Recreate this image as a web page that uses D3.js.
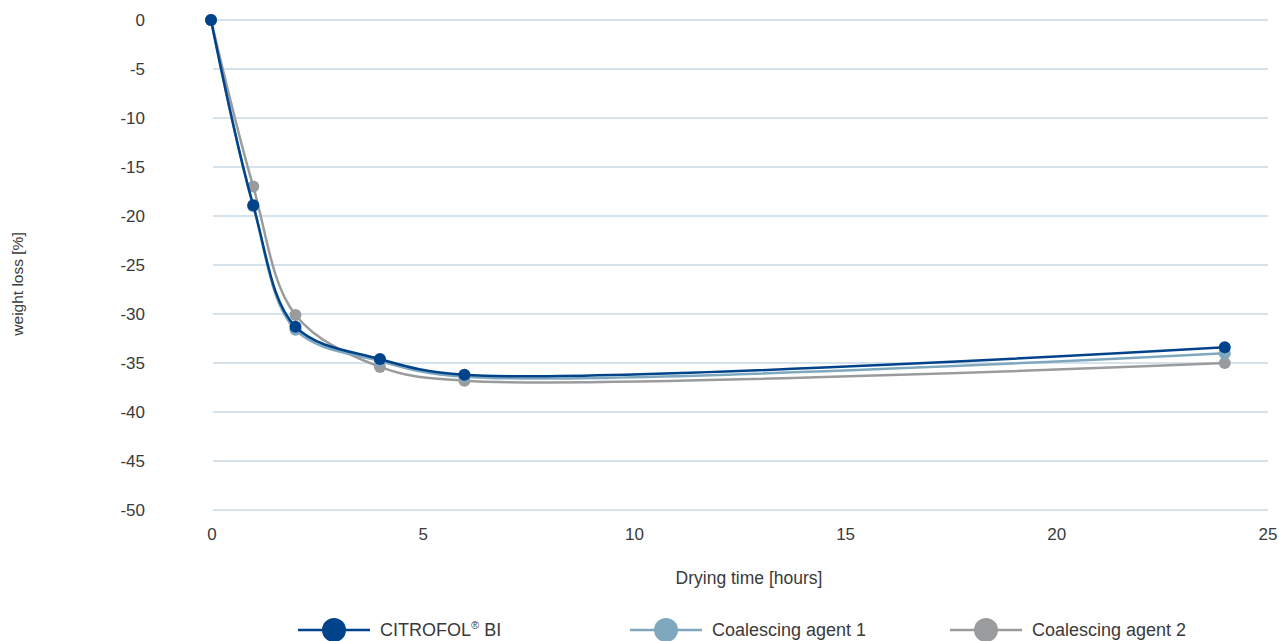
<!DOCTYPE html>
<html>
<head>
<meta charset="utf-8">
<script src="https://d3js.org/d3.v7.min.js"></script>
<style>
  body { margin: 0; background: #fff; }
  svg text { font-family: "Liberation Sans", Arial, sans-serif; fill: #3a3a3a; }
</style>
</head>
<body>
<div id="chart"></div>
<script>
// Data
const hours = [0, 1, 2, 4, 6, 24];
const citrofolBI = [0, -18.9, -31.3, -34.6, -36.2, -33.4];
const agent1 = [0, -19.0, -31.6, -34.8, -36.4, -34.0];
const agent2 = [0, -17.0, -30.1, -35.4, -36.8, -35.0];
const yTicks = [0, -5, -10, -15, -20, -25, -30, -35, -40, -45, -50];
const xTicks = [0, 5, 10, 15, 20, 25];

const seriesList = [
  { name: "Coalescing agent 2", values: agent2, color: "#9a9b9c" },
  { name: "Coalescing agent 1", values: agent1, color: "#7fa8bf" },
  { name: "CITROFOL® BI", values: citrofolBI, color: "#00438a" }
];
const legendOrder = [seriesList[2], seriesList[1], seriesList[0]];

const width = 1279, height = 641;
const svg = d3.select('#chart').append('svg')
  .attr('width', width)
  .attr('height', height);

const x = d3.scaleLinear().domain([0, 25]).range([211, 1267]);
const y = d3.scaleLinear().domain([0, -50]).range([20, 510]);

// Horizontal grid lines
svg.append('g')
  .selectAll('line')
  .data(yTicks)
  .enter()
  .append('line')
  .attr('x1', 213)
  .attr('x2', 1268)
  .attr('y1', d => y(d))
  .attr('y2', d => y(d))
  .style('stroke', '#c8d9e6')
  .style('stroke-width', '1.3px');

// Y tick labels
svg.append('g')
  .selectAll('text')
  .data(yTicks)
  .enter()
  .append('text')
  .attr('x', 145)
  .attr('y', d => y(d))
  .attr('dy', '0.35em')
  .attr('text-anchor', 'end')
  .style('font-size', '17px')
  .text(d => d);

// X tick labels
svg.append('g')
  .selectAll('text')
  .data(xTicks)
  .enter()
  .append('text')
  .attr('x', d => x(d) + 1)
  .attr('y', 534)
  .attr('dy', '0.35em')
  .attr('text-anchor', 'middle')
  .style('font-size', '17px')
  .text(d => d);

// Axis titles
svg.append('text')
  .attr('x', 749)
  .attr('y', 578)
  .attr('dy', '0.35em')
  .attr('text-anchor', 'middle')
  .style('font-size', '17.5px')
  .text('Drying time [hours]');

svg.append('text')
  .attr('transform', 'translate(18,284) rotate(-90)')
  .attr('dy', '0.35em')
  .attr('text-anchor', 'middle')
  .style('font-size', '15.5px')
  .text('weight loss [%]');

// Lines
const line = d3.line()
  .x(d => x(d[0]))
  .y(d => y(d[1]))
  .curve(d3.curveCatmullRom.alpha(0.5));

const seriesG = svg.append('g')
  .selectAll('g')
  .data(seriesList)
  .enter()
  .append('g');

seriesG.append('path')
  .attr('d', d => line(hours.map((h, i) => [h, d.values[i]])))
  .style('fill', 'none')
  .style('stroke', d => d.color)
  .style('stroke-width', '2.5px');

seriesG.selectAll('circle')
  .data(d => hours.map((h, i) => ({ h, v: d.values[i], color: d.color })))
  .enter()
  .append('circle')
  .attr('cx', d => x(d.h))
  .attr('cy', d => y(d.v))
  .attr('r', 6)
  .style('fill', d => d.color);

// Legend
const legendX = [298, 630, 950];
const legend = svg.append('g')
  .selectAll('g')
  .data(legendOrder)
  .enter()
  .append('g')
  .attr('transform', (d, i) => `translate(${legendX[i]},630)`);

legend.append('line')
  .attr('x1', 0)
  .attr('x2', 72)
  .style('stroke', d => d.color)
  .style('stroke-width', '2.5px');

legend.append('circle')
  .attr('cx', 36)
  .attr('r', 12)
  .style('fill', d => d.color);

const legendText = legend.append('text')
  .attr('x', 82)
  .attr('y', 6)
  .style('font-size', '18px');

legendText.each(function(d) {
  const t = d3.select(this);
  if (d.name.includes('®')) {
    const parts = d.name.split('®');
    t.append('tspan').text(parts[0]);
    t.append('tspan').attr('dy', '-7px').style('font-size', '11px').text('®');
    t.append('tspan').attr('dy', '7px').text(parts[1]);
  } else {
    t.text(d.name);
  }
});
</script>
</body>
</html>
